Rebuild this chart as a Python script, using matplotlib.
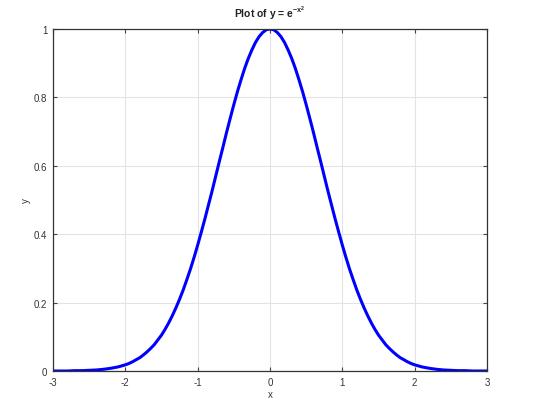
import matplotlib
matplotlib.use("Agg")
import matplotlib.pyplot as plt

plt.rcParams["font.family"] = ["Liberation Sans", "DejaVu Sans"]
plt.rcParams["mathtext.fontset"] = "custom"
plt.rcParams["mathtext.rm"] = "Liberation Sans"
plt.rcParams["mathtext.bf"] = "Liberation Sans:bold"
plt.rcParams["mathtext.it"] = "Liberation Sans:bold"

x_vals = [-3.0, -2.9, -2.8, -2.7, -2.6, -2.5, -2.4, -2.3, -2.2, -2.1,
          -2.0, -1.95, -1.9, -1.85, -1.8, -1.75, -1.7, -1.65, -1.6, -1.55,
          -1.5, -1.45, -1.4, -1.35, -1.3, -1.25, -1.2, -1.15, -1.1, -1.05,
          -1.0, -0.95, -0.9, -0.85, -0.8, -0.75, -0.7, -0.65, -0.6, -0.55,
          -0.5, -0.45, -0.4, -0.35, -0.3, -0.25, -0.2, -0.15, -0.1, -0.05,
          0.0, 0.05, 0.1, 0.15, 0.2, 0.25, 0.3, 0.35, 0.4, 0.45,
          0.5, 0.55, 0.6, 0.65, 0.7, 0.75, 0.8, 0.85, 0.9, 0.95,
          1.0, 1.05, 1.1, 1.15, 1.2, 1.25, 1.3, 1.35, 1.4, 1.45,
          1.5, 1.55, 1.6, 1.65, 1.7, 1.75, 1.8, 1.85, 1.9, 1.95,
          2.0, 2.1, 2.2, 2.3, 2.4, 2.5, 2.6, 2.7, 2.8, 2.9, 3.0]
y_vals = [0.000, 0.000, 0.000, 0.001, 0.001, 0.002, 0.003, 0.005, 0.008, 0.012,
          0.018, 0.022, 0.027, 0.033, 0.039, 0.047, 0.056, 0.066, 0.077, 0.091,
          0.105, 0.122, 0.141, 0.162, 0.185, 0.210, 0.237, 0.267, 0.298, 0.332,
          0.368, 0.406, 0.445, 0.486, 0.527, 0.570, 0.613, 0.655, 0.698, 0.739,
          0.779, 0.817, 0.852, 0.885, 0.914, 0.939, 0.961, 0.978, 0.990, 0.998,
          1.000, 0.998, 0.990, 0.978, 0.961, 0.939, 0.914, 0.885, 0.852, 0.817,
          0.779, 0.739, 0.698, 0.655, 0.613, 0.570, 0.527, 0.486, 0.445, 0.406,
          0.368, 0.332, 0.298, 0.267, 0.237, 0.210, 0.185, 0.162, 0.141, 0.122,
          0.105, 0.091, 0.077, 0.066, 0.056, 0.047, 0.039, 0.033, 0.027, 0.022,
          0.018, 0.012, 0.008, 0.005, 0.003, 0.002, 0.001, 0.001, 0.000, 0.000, 0.000]
x_ticks = [-3, -2, -1, 0, 1, 2, 3]
x_ticklabels = ["-3", "-2", "-1", "0", "1", "2", "3"]
y_ticks = [0, 0.2, 0.4, 0.6, 0.8, 1]
y_ticklabels = ["0", "0.2", "0.4", "0.6", "0.8", "1"]

fig = plt.figure(figsize=(5.42, 4.06), dpi=100)
ax = fig.add_axes([53 / 542, 34 / 406, 434 / 542, 342 / 406])
ax.plot(x_vals, y_vals, color="#0000ff", lw=2.2, solid_capstyle="round",
        solid_joinstyle="round")
ax.set_xlim(-3, 3)
ax.set_ylim(0, 1)
ax.set_xticks(x_ticks)
ax.set_xticklabels(x_ticklabels)
ax.set_yticks(y_ticks)
ax.set_yticklabels(y_ticklabels)
ax.grid(True, color="#e3e3e3", lw=0.8)
ax.set_axisbelow(True)
ax.tick_params(direction="in", length=3, width=0.8, color="#444444",
               labelsize=7, labelcolor="#333333", top=True, right=True, pad=4)
for s in ax.spines.values():
    s.set_color("#333333")
    s.set_linewidth(0.9)
ax.set_xlabel("x", fontsize=7, color="#333333", labelpad=2)
ax.set_ylabel("y", fontsize=7, color="#333333", labelpad=2)
ax.set_title(r"Plot of y = e$^{\mathbf{-x^2}}$", fontsize=7.5, fontweight="bold",
             color="#222222", pad=9)
fig.savefig("out.png", dpi=100, facecolor="white")
